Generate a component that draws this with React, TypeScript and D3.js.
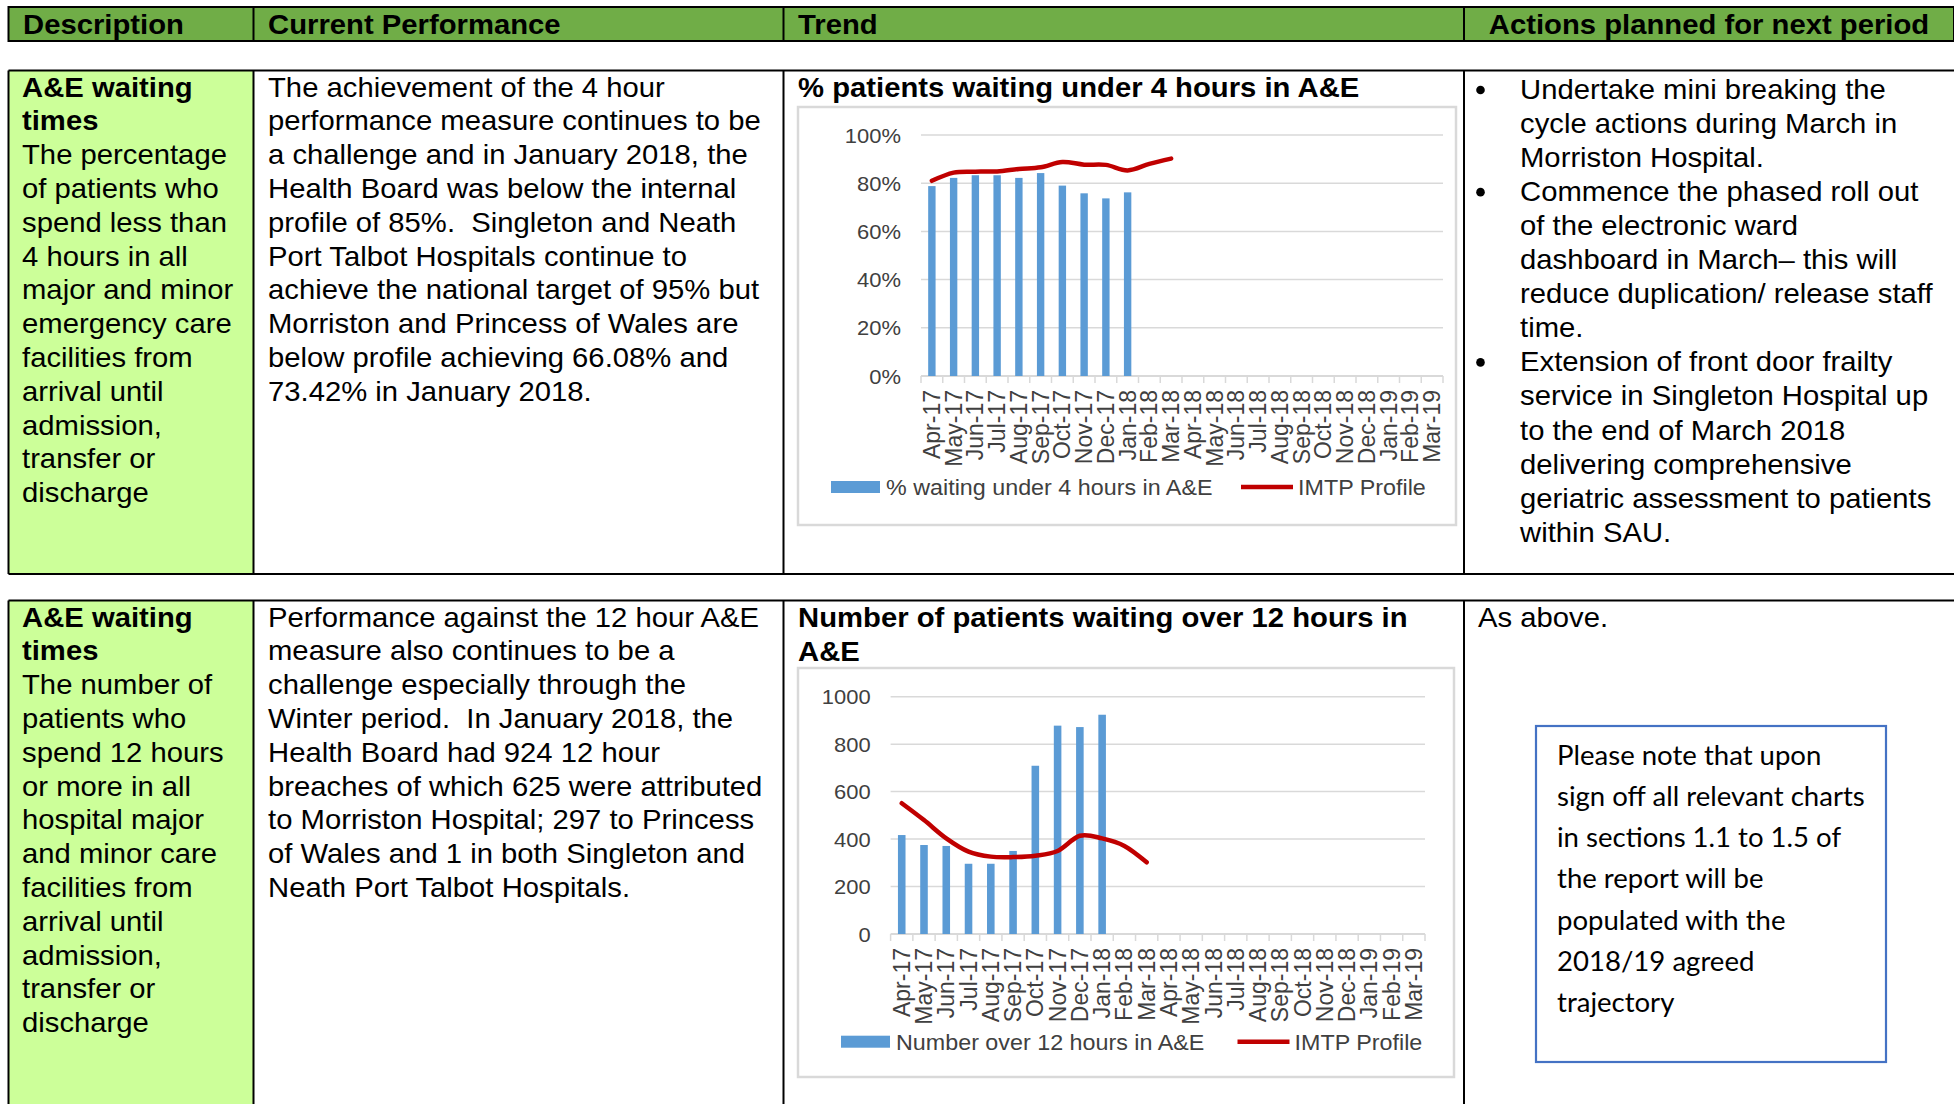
import React from 'react';
import * as d3 from 'd3';

// ---- data read off the reference ----
const months = [
  'Apr-17', 'May-17', 'Jun-17', 'Jul-17', 'Aug-17', 'Sep-17', 'Oct-17', 'Nov-17', 'Dec-17', 'Jan-18', 'Feb-18', 'Mar-18',
  'Apr-18', 'May-18', 'Jun-18', 'Jul-18', 'Aug-18', 'Sep-18', 'Oct-18', 'Nov-18', 'Dec-18', 'Jan-19', 'Feb-19', 'Mar-19',
];
const under4Pct = [78.8, 82.2, 83.3, 83.3, 82.2, 84.2, 79.0, 75.8, 73.7, 76.2];
const under4Profile = [81.0, 84.4, 84.8, 84.9, 85.9, 86.6, 88.8, 87.7, 87.6, 85.3, 88.0, 90.2];
const pctTicks = [0, 20, 40, 60, 80, 100];

const over12Count = [417, 375, 371, 296, 296, 350, 709, 878, 872, 924];
const over12Profile = [551, 480, 403, 347, 326, 324, 330, 350, 414, 403, 371, 302];
const countTicks = [0, 200, 400, 600, 800, 1000];

const headers = ['Description', 'Current Performance', 'Trend', 'Actions planned for next period'];

const desc1 = ['The percentage', 'of patients who', 'spend less than', '4 hours in all', 'major and minor',
  'emergency care', 'facilities from', 'arrival until', 'admission,', 'transfer or', 'discharge'];
const desc2 = ['The number of', 'patients who', 'spend 12 hours', 'or more in all', 'hospital major',
  'and minor care', 'facilities from', 'arrival until', 'admission,', 'transfer or', 'discharge'];

const perf1 = [
  'The achievement of the 4 hour',
  'performance measure continues to be',
  'a challenge and in January 2018, the',
  'Health Board was below the internal',
  'profile of 85%.  Singleton and Neath',
  'Port Talbot Hospitals continue to',
  'achieve the national target of 95% but',
  'Morriston and Princess of Wales are',
  'below profile achieving 66.08% and',
  '73.42% in January 2018.',
];
const perf2 = [
  'Performance against the 12 hour A&E',
  'measure also continues to be a',
  'challenge especially through the',
  'Winter period.  In January 2018, the',
  'Health Board had 924 12 hour',
  'breaches of which 625 were attributed',
  'to Morriston Hospital; 297 to Princess',
  'of Wales and 1 in both Singleton and',
  'Neath Port Talbot Hospitals.',
];
const actions1 = [
  ['Undertake mini breaking the', 'cycle actions during March in', 'Morriston Hospital.'],
  ['Commence the phased roll out', 'of the electronic ward', 'dashboard in March\u2013 this will',
    'reduce duplication/ release staff', 'time.'],
  ['Extension of front door frailty', 'service in Singleton Hospital up', 'to the end of March 2018',
    'delivering comprehensive', 'geriatric assessment to patients', 'within SAU.'],
];
const noteLines = ['Please note that upon', 'sign off all relevant charts', 'in sections 1.1 to 1.5 of',
  'the report will be', 'populated with the', '2018/19 agreed', 'trajectory'];

// ---- styling ----
const ARIAL = '"Liberation Sans", Arial, sans-serif';
const CALIBRI = 'Lato, "Noto Sans", sans-serif';
const SX = 1.06; // the page image is slightly stretched horizontally
const BODY = 27.6;
const BLUE = '#5B9BD5';
const RED = '#C00000';
const GRID = '#D9D9D9';
const AXIS_TEXT = '#404040';

const T = ({ x, y, size = BODY, weight = 'normal', anchor = 'start', fill = '#000', family = ARIAL, children }: any) => (
  <text transform={`translate(${x},${y}) scale(${SX},1)`} fontSize={size} fontWeight={weight}
    textAnchor={anchor} fill={fill} fontFamily={family} style={{ whiteSpace: 'pre' }}>{children}</text>
);

const COL = [8.5, 253.5, 783.5, 1464];

function ComboChart({ frame, plot, titleLines, domainMax, ticks, fmt, bars, profile, barLabel, legend }: any) {
  const x = d3.scaleBand<string>().domain(months).range([plot.x0, plot.x1]);
  const y = d3.scaleLinear().domain([0, domainMax]).range([plot.yb, plot.yt]);
  const bw = x.bandwidth();
  const cx = (i: number) => (x(months[i]) as number) + bw / 2;
  const barW = bw * 0.34;
  const line = d3.line<number>().x((_, i) => cx(i)).y(d => y(d)).curve(d3.curveCardinal.tension(0));
  const edges = months.map(m => x(m) as number).concat([plot.x1]);

  return (
    <g>
      {titleLines.map((t: string, i: number) => (
        <T key={i} x={frame.x0} y={titleLines.y0 + i * 34} weight="bold">{t}</T>
      ))}
      <rect x={frame.x0} y={frame.y0} width={frame.x1 - frame.x0} height={frame.y1 - frame.y0}
        fill="#fff" stroke={GRID} strokeWidth={2.5} />
      {ticks.map((t: number) => (
        <g key={t}>
          <line x1={plot.x0} x2={plot.x1} y1={y(t)} y2={y(t)} stroke={GRID} strokeWidth={t === 0 ? 2 : 1.5} />
          <T x={plot.x0 - 20} y={y(t) + 7.5} size={20.7} anchor="end" fill={AXIS_TEXT}>{fmt(t)}</T>
        </g>
      ))}
      {edges.map((e, i) => (
        <line key={i} x1={e} x2={e} y1={plot.yb} y2={plot.yb + 7} stroke={GRID} strokeWidth={1.5} />
      ))}
      {bars.map((v: number, i: number) => (
        <rect key={i} x={cx(i) - barW / 2} y={y(v)} width={barW} height={y(0) - y(v)} fill={BLUE} />
      ))}
      <path d={line(profile) as string} fill="none" stroke={RED} strokeWidth={4.5} strokeLinecap="round" />
      {months.map((m, i) => (
        <text key={m} transform={`translate(${cx(i)},${plot.yb + 14}) rotate(-90)`} dy="0.35em"
          textAnchor="end" fontSize={23} fill={AXIS_TEXT} fontFamily={ARIAL}>{m}</text>
      ))}
      <rect x={legend.bx} y={legend.y - 6} width={49} height={12} fill={BLUE} />
      <T x={legend.bx + 55} y={legend.y + 8} size={22} fill={AXIS_TEXT}>{barLabel}</T>
      <line x1={legend.rx} x2={legend.rx + 52} y1={legend.y} y2={legend.y} stroke={RED} strokeWidth={4.5} />
      <T x={legend.rx + 57} y={legend.y + 8} size={22} fill={AXIS_TEXT}>IMTP Profile</T>
    </g>
  );
}

function Row({ top, bottom, descLines, perfLines }: any) {
  const base = top + 26;
  const lh = 33.8;
  return (
    <g>
      <rect x={COL[0]} y={top} width={COL[1] - COL[0]} height={bottom - top} fill="#CCFF99" />
      <T x={22} y={base} weight="bold">A&amp;E waiting</T>
      <T x={22} y={base + lh} weight="bold">times</T>
      {descLines.map((t: string, i: number) => <T key={i} x={22} y={base + lh * (i + 2)}>{t}</T>)}
      {perfLines.map((t: string, i: number) => <T key={i} x={268} y={base + lh * i}>{t}</T>)}
      <line x1={COL[0]} x2={1954} y1={top} y2={top} stroke="#000" strokeWidth={2} />
      {bottom < 1104 && <line x1={COL[0]} x2={1954} y1={bottom} y2={bottom} stroke="#000" strokeWidth={2} />}
      {COL.map(c => <line key={c} x1={c} x2={c} y1={top} y2={bottom} stroke="#000" strokeWidth={2} />)}
    </g>
  );
}

export default function App() {
  const t1: any = ['% patients waiting under 4 hours in A&E'];
  t1.y0 = 96.5;
  const t2: any = ['Number of patients waiting over 12 hours in', 'A&E'];
  t2.y0 = 626.5;

  const actTop = 99;
  const actLh = 34.05;
  let actLine = 0;
  return (
    <svg width={1954} height={1104} style={{ position: 'absolute', left: 0, top: 0, display: 'block', background: '#fff' }}>
      {/* header band */}
      <rect x={COL[0]} y={7} width={1954 - COL[0]} height={34} fill="#70AD47" stroke="#000" strokeWidth={2} />
      {COL.slice(1).map(c => <line key={c} x1={c} x2={c} y1={7} y2={41} stroke="#000" strokeWidth={2} />)}
      <T x={23} y={34} weight="bold">{headers[0]}</T>
      <T x={268} y={34} weight="bold">{headers[1]}</T>
      <T x={798} y={34} weight="bold">{headers[2]}</T>
      <T x={1709} y={34} weight="bold" anchor="middle">{headers[3]}</T>

      <Row top={70.5} bottom={574} descLines={desc1} perfLines={perf1} />
      <Row top={600.5} bottom={1110} descLines={desc2} perfLines={perf2} />

      {/* actions, row 1 */}
      {actions1.map((item, k) => {
        const start = actLine;
        actLine += item.length;
        return (
          <g key={k}>
            <circle cx={1480.5} cy={actTop + start * actLh - 9} r={4.3} fill="#000" />
            {item.map((t, i) => <T key={i} x={1520} y={actTop + (start + i) * actLh}>{t}</T>)}
          </g>
        );
      })}

      {/* actions, row 2 */}
      <T x={1478} y={626.5}>As above.</T>
      <rect x={1536} y={726} width={350} height={336} fill="#fff" stroke="#4472C4" strokeWidth={2.2} />
      {noteLines.map((t, i) => (
        <T key={i} x={1557} y={764.5 + i * 41.3} size={26} family={CALIBRI}>{t}</T>
      ))}

      <ComboChart
        frame={{ x0: 798, y0: 107, x1: 1456, y1: 525 }}
        plot={{ x0: 921, x1: 1443, yt: 135, yb: 376 }}
        titleLines={t1}
        domainMax={100}
        ticks={pctTicks}
        fmt={(v: number) => `${v}%`}
        bars={under4Pct}
        profile={under4Profile}
        barLabel="% waiting under 4 hours in A&E"
        legend={{ bx: 831, rx: 1241, y: 487 }}
      />
      <ComboChart
        frame={{ x0: 798, y0: 668, x1: 1454, y1: 1077 }}
        plot={{ x0: 890.6, x1: 1425, yt: 696.7, yb: 934 }}
        titleLines={t2}
        domainMax={1000}
        ticks={countTicks}
        fmt={(v: number) => `${v}`}
        bars={over12Count}
        profile={over12Profile}
        barLabel="Number over 12 hours in A&E"
        legend={{ bx: 841, rx: 1237.5, y: 1041.7 }}
      />
    </svg>
  );
}
